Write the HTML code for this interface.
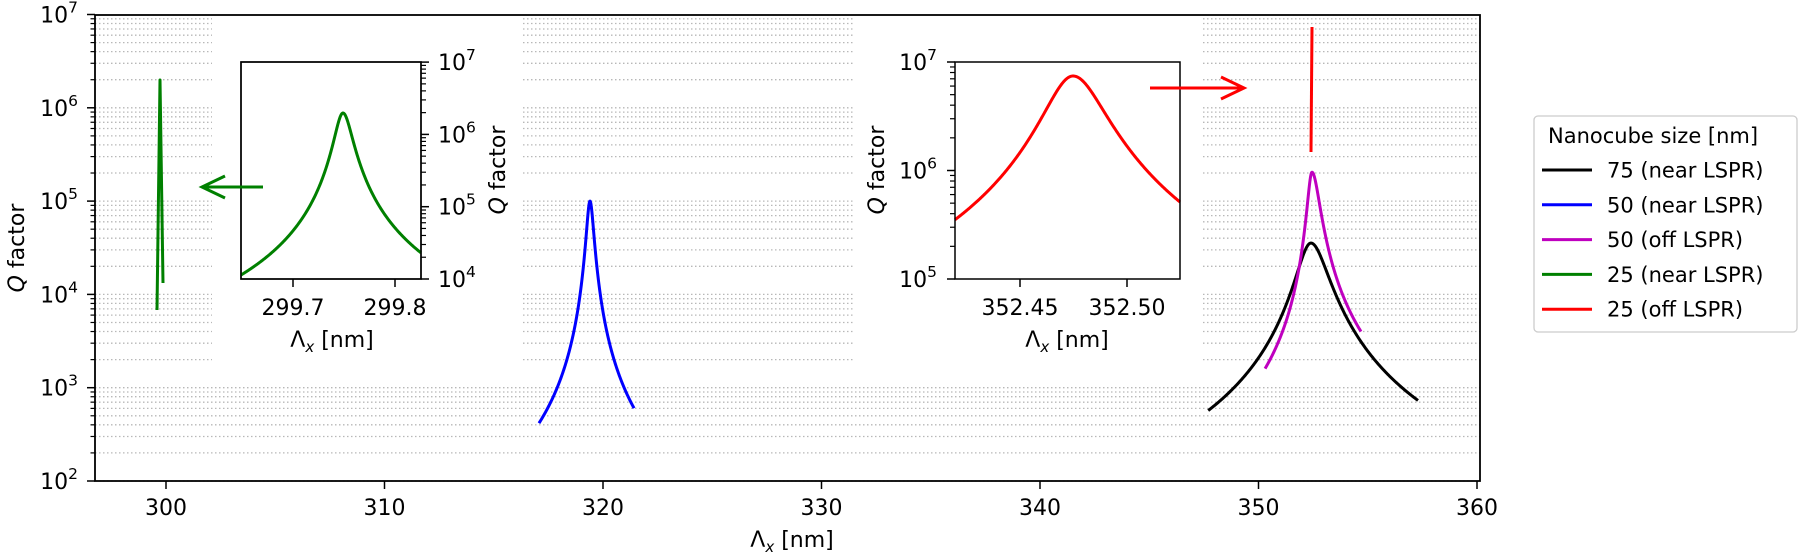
<!DOCTYPE html>
<html><head><meta charset="utf-8">
<style>
html,body{margin:0;padding:0;background:#fff;}
svg{display:block;font-family:"DejaVu Sans","Liberation Sans",sans-serif;}
</style></head>
<body>
<svg id="s" width="1801" height="556" viewBox="0 0 1801 556" xmlns="http://www.w3.org/2000/svg"></svg>
<script>
(function(){
var o=[];
function X(l){return 166+(l-300)*21.85;}
function Y(q){return 481-(Math.log10(q)-2)*93.3;}
var L=95,R=1480,T=15,B=481;
// grid
for(var k=2;k<7;k++){for(var m=1;m<10;m++){var y=Y(m*Math.pow(10,k));if(y<T+1)continue;
o.push('<line x1="'+L+'" x2="'+R+'" y1="'+y.toFixed(1)+'" y2="'+y.toFixed(1)+'" stroke="#b8b8b8" stroke-width="1.3" stroke-dasharray="1.5,2.5"/>');}}
o.push('<rect x="212" y="16" width="311" height="359" fill="#fff"/>');
o.push('<rect x="855" y="16" width="348" height="359" fill="#fff"/>');
// main y ticks
for(var k=2;k<=7;k++){var y=Y(Math.pow(10,k));
o.push('<line x1="'+(L-8)+'" x2="'+L+'" y1="'+y+'" y2="'+y+'" stroke="#000" stroke-width="1.5"/>');
o.push('<text x="78" y="'+(y+8)+'" font-size="22" text-anchor="end">10<tspan dy="-10" font-size="15.5">'+k+'</tspan></text>');
if(k<7)for(var m=2;m<10;m++){var yy=Y(m*Math.pow(10,k));o.push('<line x1="'+(L-4.5)+'" x2="'+L+'" y1="'+yy+'" y2="'+yy+'" stroke="#000" stroke-width="1.2"/>');}}
// main x ticks
for(var l=300;l<=360;l+=10){var x=X(l);
o.push('<line x1="'+x+'" x2="'+x+'" y1="'+B+'" y2="'+(B+8)+'" stroke="#000" stroke-width="1.5"/>');
o.push('<text x="'+x+'" y="515" font-size="22" text-anchor="middle">'+l+'</text>');}
o.push('<text x="792" y="547" font-size="22" text-anchor="middle">Λ<tspan dy="5" font-size="15" font-style="italic">x</tspan><tspan dy="-5"> [nm]</tspan></text>');
o.push('<text transform="translate(24,248) rotate(-90)" font-size="22" text-anchor="middle"><tspan font-style="italic">Q</tspan> factor</text>');
// lorentz path
function lor(l0,q0,gl,gr,a,b,fx,fy){var p=[];for(var i=0;i<=400;i++){var l=a+(b-a)*i/400;var g=l<l0?gl:gr;var q=q0/(1+Math.pow((l-l0)/g,2));p.push(fx(l).toFixed(2)+','+fy(q).toFixed(2));}return p.join(' ');}
function pl(pts,c,w){o.push('<polyline points="'+pts+'" fill="none" stroke="'+c+'" stroke-width="'+(w||3)+'" stroke-linejoin="round"/>');}
// blue
pl(lor(319.405,1e5,0.151,0.157,317.07,321.42,X,Y),'#0000ff');
// black
pl(lor(352.40,35500,0.60,0.71,347.7,357.3,X,Y),'#000');
// magenta
pl(lor(352.448,2.04e5,0.191,0.317,350.30,354.69,X,Y),'#bf00bf');
// red vertical
pl('1311,152 1312,27','#ff0000');
// green vertical
pl('157,310 160,80 163,283','#008000');
// inset1
o.push('<rect x="241" y="62" width="180" height="217" fill="#fff" stroke="#000" stroke-width="1.5"/>');
function X1(l){return 293+(l-299.7)*1020;}function Y1(q){return 279-(Math.log10(q)-4)*72.3;}
pl(lor(299.749,Math.pow(10,6.296),0.0076,0.0083,299.649,299.8255,X1,Y1),'#008000');
o.push('<rect x="241" y="62" width="180" height="217" fill="none" stroke="#000" stroke-width="1.5"/>');
for(var k=4;k<=7;k++){var y=Y1(Math.pow(10,k));
o.push('<line x1="421" x2="429" y1="'+y+'" y2="'+y+'" stroke="#000" stroke-width="1.5"/>');
o.push('<text x="438" y="'+(y+8)+'" font-size="22">10<tspan dy="-10" font-size="15.5">'+k+'</tspan></text>');
if(k<7)for(var m=2;m<10;m++){var yy=Y1(m*Math.pow(10,k));o.push('<line x1="421" x2="426" y1="'+yy+'" y2="'+yy+'" stroke="#000" stroke-width="1.2"/>');}}
[[299.7,'299.7'],[299.8,'299.8']].forEach(function(t){var x=X1(t[0]);o.push('<line x1="'+x+'" x2="'+x+'" y1="279" y2="287" stroke="#000" stroke-width="1.5"/><text x="'+x+'" y="315" font-size="22" text-anchor="middle">'+t[1]+'</text>');});
o.push('<text x="332" y="347" font-size="22" text-anchor="middle">Λ<tspan dy="5" font-size="15" font-style="italic">x</tspan><tspan dy="-5"> [nm]</tspan></text>');
o.push('<text transform="translate(505,170) rotate(-90)" font-size="22" text-anchor="middle"><tspan font-style="italic">Q</tspan> factor</text>');
// inset2
function X2(l){return 1020+(l-352.45)*2140;}function Y2(q){return 279-(Math.log10(q)-5)*108.5;}
o.push('<rect x="955" y="62" width="225" height="217" fill="#fff"/>');
pl(lor(352.4748,Math.pow(10,6.871),0.0123,0.0136,352.4196,352.5248,X2,Y2),'#ff0000');
o.push('<rect x="955" y="62" width="225" height="217" fill="none" stroke="#000" stroke-width="1.5"/>');
for(var k=5;k<=7;k++){var y=Y2(Math.pow(10,k));
o.push('<line x1="947" x2="955" y1="'+y+'" y2="'+y+'" stroke="#000" stroke-width="1.5"/>');
o.push('<text x="937" y="'+(y+8)+'" font-size="22" text-anchor="end">10<tspan dy="-10" font-size="15.5">'+k+'</tspan></text>');
if(k<7)for(var m=2;m<10;m++){var yy=Y2(m*Math.pow(10,k));o.push('<line x1="950" x2="955" y1="'+yy+'" y2="'+yy+'" stroke="#000" stroke-width="1.2"/>');}}
[[352.45,'352.45'],[352.50,'352.50']].forEach(function(t){var x=X2(t[0]);o.push('<line x1="'+x+'" x2="'+x+'" y1="279" y2="287" stroke="#000" stroke-width="1.5"/><text x="'+x+'" y="315" font-size="22" text-anchor="middle">'+t[1]+'</text>');});
o.push('<text x="1067" y="347" font-size="22" text-anchor="middle">Λ<tspan dy="5" font-size="15" font-style="italic">x</tspan><tspan dy="-5"> [nm]</tspan></text>');
o.push('<text transform="translate(884,170) rotate(-90)" font-size="22" text-anchor="middle"><tspan font-style="italic">Q</tspan> factor</text>');
// arrows
o.push('<line x1="263" y1="187" x2="203" y2="187" stroke="#008000" stroke-width="3"/><polyline points="225,176 202,187 225,198" fill="none" stroke="#008000" stroke-width="3"/>');
o.push('<line x1="1150" y1="88" x2="1243" y2="88" stroke="#ff0000" stroke-width="3"/><polyline points="1221,77 1244,88 1221,99" fill="none" stroke="#ff0000" stroke-width="3"/>');
// main frame
o.push('<rect x="'+L+'" y="'+T+'" width="'+(R-L)+'" height="'+(B-T)+'" fill="none" stroke="#000" stroke-width="1.8"/>');
// legend
o.push('<rect x="1534" y="116" width="263" height="216" rx="4" fill="#fff" stroke="#cccccc" stroke-width="1.3"/>');
o.push('<text x="1548" y="143" font-size="21">Nanocube size [nm]</text>');
var lg=[['#000','75 (near LSPR)'],['#0000ff','50 (near LSPR)'],['#bf00bf','50 (off LSPR)'],['#008000','25 (near LSPR)'],['#ff0000','25 (off LSPR)']];
lg.forEach(function(e,i){var y=170+i*34.8;o.push('<line x1="1542" x2="1592" y1="'+y+'" y2="'+y+'" stroke="'+e[0]+'" stroke-width="3"/><text x="1607" y="'+(y+7.5)+'" font-size="21">'+e[1]+'</text>');});
document.getElementById('s').innerHTML=o.join('');
})();
</script>
</body></html>
